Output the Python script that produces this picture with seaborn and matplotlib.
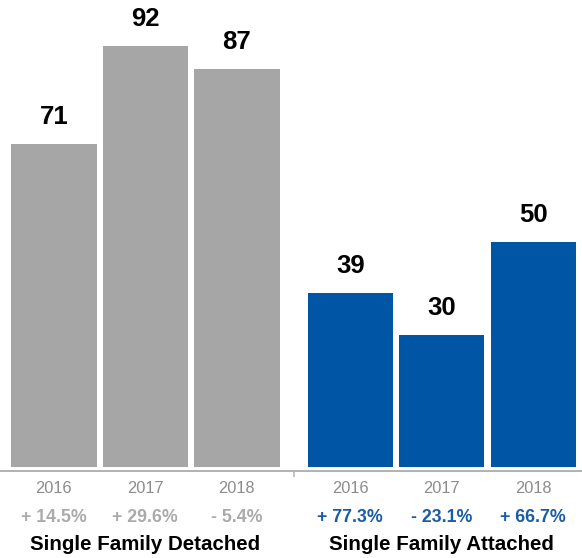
import matplotlib
matplotlib.use("Agg")
import matplotlib.pyplot as plt
import matplotlib.transforms as mtransforms
import seaborn as sns
import pandas as pd

groups = ["Single Family Detached", "Single Family Detached", "Single Family Detached",
          "Single Family Attached", "Single Family Attached", "Single Family Attached"]
years = ["2016", "2017", "2018", "2016", "2017", "2018"]
values = [71, 92, 87, 39, 30, 50]
changes = ["+ 14.5%", "+ 29.6%", "- 5.4%", "+ 77.3%", "- 23.1%", "+ 66.7%"]
group_titles = ["Single Family Detached", "Single Family Attached"]

positions = [0, 1, 2, 3.24, 4.24, 5.24]
colors = {"Single Family Detached": "#a6a6a6", "Single Family Attached": "#0055a5"}
change_colors = {"Single Family Detached": "#aaaaaa", "Single Family Attached": "#1a5ba8"}

sns.set_style("white")
plt.rcParams["font.family"] = ["Liberation Sans", "DejaVu Sans"]

df = pd.DataFrame({"pos": positions, "value": values, "group": groups})

fig = plt.figure(figsize=(5.82, 5.58), dpi=100)
# axes: top at pixel 0, bottom at pixel 467
ax = fig.add_axes([0, 1 - 467 / 558, 1, 467 / 558])

sns.barplot(data=df, x="pos", y="value", hue="group", palette=colors,
            native_scale=True, width=0.934, dodge=False, legend=False,
            errorbar=None, ax=ax, saturation=1, linewidth=0)

px_per_unit = 4.661
y_bottom = (474.8 - 467) / px_per_unit
y_top = 474.8 / px_per_unit
ax.set_ylim(y_bottom, y_top)
ax.set_xlim(-0.588, 5.773)

for s in ["top", "left", "right"]:
    ax.spines[s].set_visible(False)
ax.spines["bottom"].set_position(("outward", 4 * 0.72))
ax.spines["bottom"].set_color("#b3b3b3")
ax.spines["bottom"].set_linewidth(2 * 0.72)
ax.set_yticks([])
ax.set_xticks([])
ax.set_xticks([(positions[2] + positions[3]) / 2], minor=True)
ax.tick_params(axis="x", which="minor", length=6 * 0.72, width=1.5 * 0.72,
               color="#b3b3b3", direction="out", bottom=True)
ax.set_xlabel("")
ax.set_ylabel("")

for p, v in zip(positions, values):
    ax.annotate(str(v), (p, v), xytext=(0, 20 * 0.72), textcoords="offset points",
                ha="center", va="baseline", fontsize=18.5, fontweight="bold",
                color="#000000")

trans = mtransforms.blended_transform_factory(ax.transData, fig.transFigure)
for p, yr, ch, g in zip(positions, years, changes, groups):
    ax.text(p, 1 - 493 / 558, yr, transform=trans, ha="center", va="baseline",
            fontsize=11.8, color="#8c8c8c", clip_on=False)
    ax.text(p, 1 - 521.5 / 558, ch, transform=trans, ha="center", va="baseline",
            fontsize=12.8, fontweight="bold", color=change_colors[g], clip_on=False)

for i, t in enumerate(group_titles):
    ax.text(positions[3 * i + 1], 1 - 550 / 558, t, transform=trans, ha="center",
            va="baseline", fontsize=14.8, fontweight="bold", color="#000000",
            clip_on=False)

fig.savefig("out.png", dpi=100)
